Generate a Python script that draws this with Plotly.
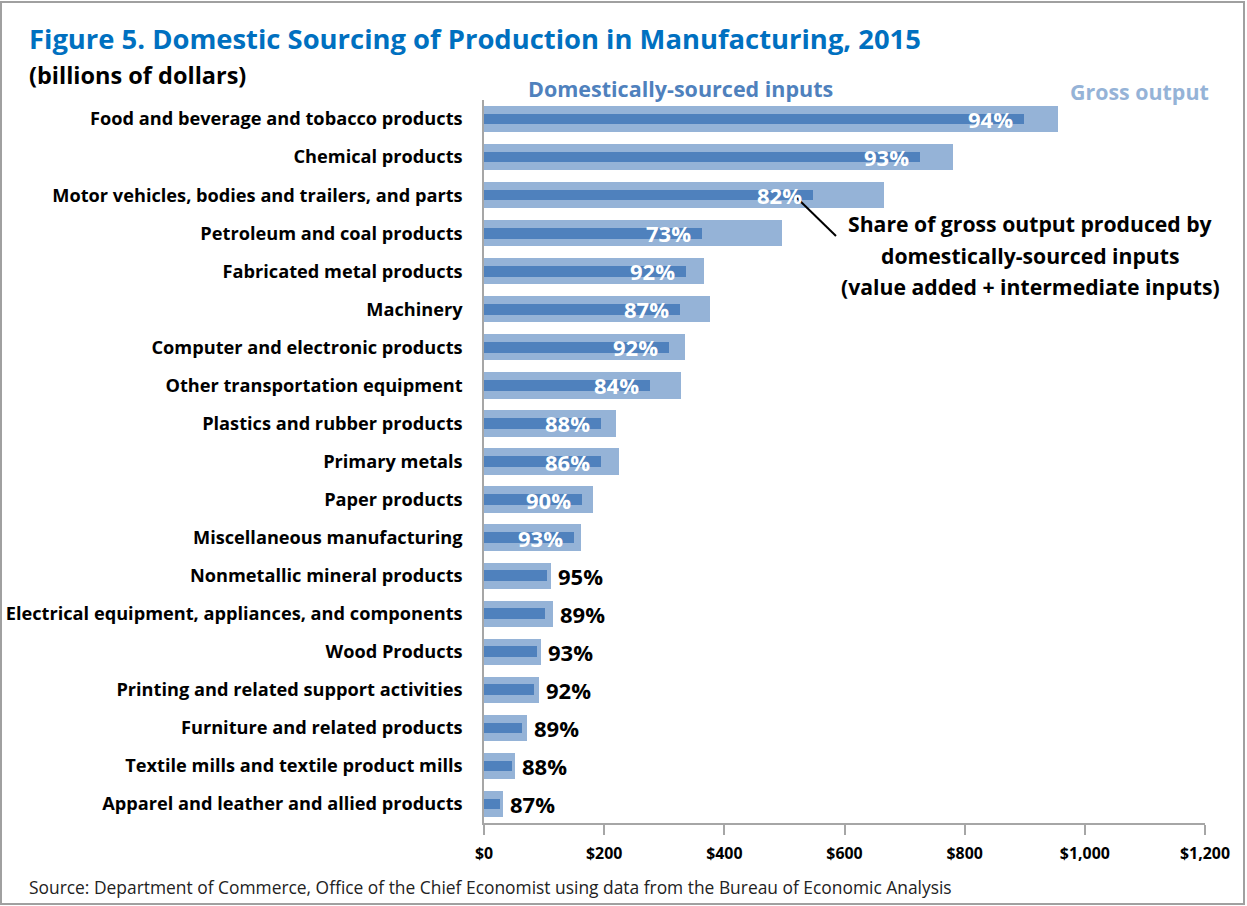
import plotly.graph_objects as go

categories = [
    "Food and beverage and tobacco products",
    "Chemical products",
    "Motor vehicles, bodies and trailers, and parts",
    "Petroleum and coal products",
    "Fabricated metal products",
    "Machinery",
    "Computer and electronic products",
    "Other transportation equipment",
    "Plastics and rubber products",
    "Primary metals",
    "Paper products",
    "Miscellaneous manufacturing",
    "Nonmetallic mineral products",
    "Electrical equipment, appliances, and components",
    "Wood Products",
    "Printing and related support activities",
    "Furniture and related products",
    "Textile mills and textile product mills",
    "Apparel and leather and allied products",
]
gross_output = [955, 781, 666, 496, 366, 376, 335, 328, 220, 225, 181, 161, 111, 115, 95, 91, 72, 52, 31]
domestic_inputs = [898, 726, 547, 362, 337, 327, 308, 276, 194, 194, 163, 150, 105, 102, 88, 83, 64, 46, 27]
share_labels = ["94%", "93%", "82%", "73%", "92%", "87%", "92%", "84%", "88%", "86%", "90%", "93%",
                "95%", "89%", "93%", "92%", "89%", "88%", "87%"]
inside_count = 12
tick_vals = [0, 200, 400, 600, 800, 1000, 1200]
tick_text = ["$0", "$200", "$400", "$600", "$800", "$1,000", "$1,200"]

FONT = "Open Sans"
LIGHT = "#95B3D7"
DARK = "#4F81BD"

fig = go.Figure()
fig.add_trace(go.Bar(y=categories, x=gross_output, orientation="h", name="Gross output",
                     marker=dict(color=LIGHT, line=dict(width=0)), width=0.69, hoverinfo="x+y"))
fig.add_trace(go.Bar(y=categories, x=domestic_inputs, orientation="h", name="Domestically-sourced inputs",
                     marker=dict(color=DARK, line=dict(width=0)), width=0.28, hoverinfo="x+y"))

annotations = []
for i, (cat, g, d, lab) in enumerate(zip(categories, gross_output, domestic_inputs, share_labels)):
    if i < inside_count:
        annotations.append(dict(x=d, y=cat, xref="x", yref="y", text=lab, showarrow=False,
                                xanchor="right", yanchor="middle", xshift=-9,
                                font=dict(family=FONT, size=22, color="white", weight="bold")))
    else:
        annotations.append(dict(x=g, y=cat, xref="x", yref="y", text=lab, showarrow=False,
                                xanchor="left", yanchor="middle", xshift=5,
                                font=dict(family=FONT, size=22, color="black", weight="bold")))

L, R, T, B = 484, 1205, 100, 823
W, H = R - L, B - T


def px(p):
    return (p - L) / W


def py(q):
    return (B - q) / H


annotations += [
    dict(x=px(27), y=py(38), xref="paper", yref="paper", xanchor="left", yanchor="middle", showarrow=False,
         text="Figure 5. Domestic Sourcing of Production in Manufacturing, 2015",
         font=dict(family=FONT, size=27.4, color="#0070C0", weight="bold")),
    dict(x=px(27), y=py(75), xref="paper", yref="paper", xanchor="left", yanchor="middle", showarrow=False,
         text="(billions of dollars)", font=dict(family=FONT, size=23.5, color="black", weight="bold")),
    dict(x=px(680), y=py(88), xref="paper", yref="paper", xanchor="center", yanchor="middle", showarrow=False,
         text="Domestically-sourced inputs", font=dict(family=FONT, size=21.5, color=DARK, weight="bold")),
    dict(x=px(1139), y=py(91), xref="paper", yref="paper", xanchor="center", yanchor="middle", showarrow=False,
         text="Gross output", font=dict(family=FONT, size=21.4, color=LIGHT, weight="bold")),
    dict(x=px(27), y=py(887), xref="paper", yref="paper", xanchor="left", yanchor="middle", showarrow=False,
         text="Source: Department of Commerce, Office of the Chief Economist using data from the Bureau of Economic Analysis",
         font=dict(family=FONT, size=17.4, color="#222222")),
]
for txt, yy in [("Share of gross output produced by", 224),
                ("domestically-sourced inputs", 255),
                ("(value added + intermediate inputs)", 286)]:
    annotations.append(dict(x=px(1030), y=py(yy), xref="paper", yref="paper", xanchor="center",
                            yanchor="middle", showarrow=False, text=txt,
                            font=dict(family=FONT, size=21.2, color="black", weight="bold")))

shapes = [
    dict(type="line", xref="paper", yref="paper", x0=px(797), y0=py(198), x1=px(836), y1=py(236),
         line=dict(color="black", width=2)),
    dict(type="rect", xref="paper", yref="paper", x0=px(1), y0=py(904), x1=px(1244), y1=py(2),
         line=dict(color="#A0A0A0", width=2)),
]

fig.update_layout(
    width=1247, height=906,
    margin=dict(l=L, r=1247 - R, t=T, b=906 - B, autoexpand=False),
    barmode="overlay",
    bargap=0,
    showlegend=False,
    plot_bgcolor="white", paper_bgcolor="white",
    annotations=annotations, shapes=shapes,
    font=dict(family=FONT),
    xaxis=dict(range=[0, 1200], tickvals=tick_vals, ticktext=tick_text, showgrid=False, zeroline=False,
               showline=True, linecolor="#A6A6A6", linewidth=1.5, ticks="outside", ticklen=10,
               tickcolor="#A6A6A6", tickwidth=1.5, ticklabelstandoff=5, automargin=False,
               tickfont=dict(family=FONT, size=15.9, color="black", weight="bold"), fixedrange=True),
    yaxis=dict(autorange=False, range=[len(categories) - 0.5, -0.5], type="category",
               showgrid=False, zeroline=False, showline=True, linecolor="#A6A6A6", linewidth=1.5,
               ticks="", ticklabelstandoff=16, automargin=False,
               tickfont=dict(family=FONT, size=18.2, color="black", weight="bold"), fixedrange=True),
)

fig.write_html("out.html", config={"displayModeBar": False},
               post_script="document.body.style.margin='0';document.body.style.overflow='hidden';")
